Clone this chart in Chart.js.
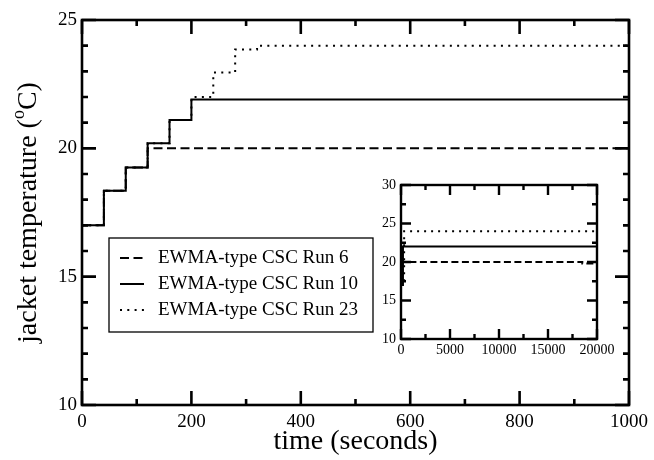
<!DOCTYPE html>
<html>
<head>
<meta charset="utf-8">
<script src="https://cdn.jsdelivr.net/npm/chart.js@4/dist/chart.umd.min.js"></script>
<style>
  body { margin: 0; background: #fff; }
  #wrap { position: relative; width: 654px; height: 460px; }
  #main { position: absolute; left: 0; top: 0; }
  #inset { position: absolute; left: 350px; top: 170px; }
</style>
</head>
<body>
<div id="wrap">
  <canvas id="main" width="654" height="460"></canvas>
  <canvas id="inset" width="270" height="195"></canvas>
</div>
<script>
// Main plot: step start times (s) and jacket temperature (C)
const run6Time = [0, 40, 80, 120, 1000];
const run6Temp = [17.0, 18.35, 19.25, 20.0, 20.0];
const run10Time = [0, 40, 80, 120, 160, 200, 1000];
const run10Temp = [17.0, 18.35, 19.25, 20.2, 21.1, 21.9, 21.9];
const run23Time = [0, 40, 80, 120, 160, 200, 240, 280, 320, 1000];
const run23Temp = [17.0, 18.35, 19.25, 20.2, 21.1, 22.0, 22.95, 23.85, 24.0, 24.0];

// Inset: long run out to 20000 s
const inset6Time = [0, 120, 18500, 20000];
const inset6Temp = [17.0, 20.0, 19.8, 19.8];
const inset10Time = [0, 200, 20000];
const inset10Temp = [17.0, 22.0, 22.0];
const inset23Time = [0, 320, 20000];
const inset23Temp = [17.0, 24.0, 24.0];

const legendLabels = ["EWMA-type CSC Run 6", "EWMA-type CSC Run 10", "EWMA-type CSC Run 23"];

const FONT = "'Liberation Serif', 'Times New Roman', serif";

function toPoints(xs, ys) {
  return xs.map((x, i) => ({ x: x, y: ys[i] }));
}

function plainTick(value) {
  return String(value);
}

function makeDatasets(times, temps, width, dashes) {
  return times.map((t, i) => ({
    label: legendLabels[i],
    data: toPoints(t, temps[i]),
    borderColor: "#000",
    borderWidth: width,
    borderDash: dashes[i],
    stepped: "before",
    pointRadius: 0,
    fill: false,
  }));
}

// frame + inward ticks on all four sides
const framePlugin = {
  id: "frame",
  afterDatasetsDraw(chart, args, opts) {
    const ctx = chart.ctx;
    const a = chart.chartArea;
    const sx = chart.scales.x, sy = chart.scales.y;
    ctx.save();
    ctx.strokeStyle = "#000";
    ctx.lineWidth = opts.width;
    ctx.lineCap = "butt";
    ctx.beginPath();
    for (let v = sx.min; v <= sx.max + 1e-9; v += opts.xMinor) {
      const px = sx.getPixelForValue(v);
      const isMajor = Math.abs(v / opts.xMajor - Math.round(v / opts.xMajor)) < 1e-6;
      const len = isMajor ? opts.major : opts.minor;
      ctx.moveTo(px, a.bottom); ctx.lineTo(px, a.bottom - len);
      ctx.moveTo(px, a.top); ctx.lineTo(px, a.top + len);
    }
    for (let v = sy.min; v <= sy.max + 1e-9; v += opts.yMinor) {
      const py = sy.getPixelForValue(v);
      const isMajor = Math.abs(v / opts.yMajor - Math.round(v / opts.yMajor)) < 1e-6;
      const len = isMajor ? opts.major : opts.minor;
      ctx.moveTo(a.left, py); ctx.lineTo(a.left + len, py);
      ctx.moveTo(a.right, py); ctx.lineTo(a.right - len, py);
    }
    ctx.stroke();
    ctx.strokeRect(a.left, a.top, a.right - a.left, a.bottom - a.top);
    ctx.restore();
  },
};

// legend box inside the main plot
const boxLegend = {
  id: "boxLegend",
  afterDraw(chart, args, opts) {
    const ctx = chart.ctx;
    ctx.save();
    ctx.strokeStyle = "#000";
    ctx.lineWidth = 1.3;
    ctx.strokeRect(opts.left, opts.top, opts.right - opts.left, opts.bottom - opts.top);
    ctx.font = "19px " + FONT;
    ctx.fillStyle = "#000";
    ctx.textBaseline = "middle";
    chart.data.datasets.forEach((ds, i) => {
      const y = opts.firstRow + i * opts.rowGap;
      ctx.lineWidth = 2;
      ctx.setLineDash(ds.borderDash || []);
      ctx.beginPath();
      ctx.moveTo(opts.left + 11, y);
      ctx.lineTo(opts.left + 35, y);
      ctx.stroke();
      ctx.setLineDash([]);
      ctx.fillText(ds.label, opts.left + 49, y);
    });
    ctx.restore();
  },
};

// rotated y title with superscript "o"
const yTitle = {
  id: "yTitle",
  afterDraw(chart) {
    const ctx = chart.ctx;
    const a = chart.chartArea;
    const big = "28px " + FONT, small = "18px " + FONT;
    ctx.save();
    ctx.fillStyle = "#000";
    ctx.textBaseline = "alphabetic";
    ctx.font = big;
    const p1 = "jacket temperature (", p3 = "C)";
    const w1 = ctx.measureText(p1).width, w3 = ctx.measureText(p3).width;
    ctx.font = small;
    const w2 = ctx.measureText("o").width;
    const total = w1 + w2 + w3;
    ctx.translate(36, (a.top + a.bottom) / 2);
    ctx.rotate(-Math.PI / 2);
    let x = -total / 2;
    ctx.font = big;
    ctx.fillText(p1, x, 0);
    x += w1;
    ctx.font = small;
    ctx.fillText("o", x, -12);
    x += w2;
    ctx.font = big;
    ctx.fillText(p3, x, 0);
    ctx.restore();
  },
};

new Chart(document.getElementById("main"), {
  type: "line",
  data: {
    datasets: makeDatasets(
      [run6Time, run10Time, run23Time],
      [run6Temp, run10Temp, run23Temp],
      2,
      [[9, 4.5], [], [2, 5.3]]
    ),
  },
  options: {
    responsive: false,
    animation: false,
    layout: { padding: { left: 0, top: 20, right: 24, bottom: 0 } },
    scales: {
      x: {
        type: "linear",
        min: 0,
        max: 1000,
        grid: { display: false, drawTicks: false },
        border: { display: false },
        ticks: { stepSize: 200, color: "#000", font: { family: FONT, size: 19 }, padding: 6, maxRotation: 0, callback: plainTick },
        title: { display: true, text: "time (seconds)", color: "#000", font: { family: FONT, size: 28 }, padding: { top: 0, bottom: 2 } },
        afterFit(s) { s.height = 55; },
      },
      y: {
        type: "linear",
        min: 10,
        max: 25,
        grid: { display: false, drawTicks: false },
        border: { display: false },
        ticks: { stepSize: 5, color: "#000", font: { family: FONT, size: 19 }, padding: 5, callback: plainTick },
        afterFit(s) { s.width = 82; },
      },
    },
    plugins: {
      legend: { display: false },
      tooltip: { enabled: false },
      frame: { width: 2.6, xMajor: 200, xMinor: 100, yMajor: 5, yMinor: 1, major: 14, minor: 6 },
      boxLegend: { left: 109, top: 238, right: 373, bottom: 332, firstRow: 258, rowGap: 26 },
    },
  },
  plugins: [framePlugin, boxLegend, yTitle],
});

new Chart(document.getElementById("inset"), {
  type: "line",
  data: {
    datasets: makeDatasets(
      [inset6Time, inset10Time, inset23Time],
      [inset6Temp, inset10Temp, inset23Temp],
      2,
      [[7, 3.5], [], [2, 5]]
    ),
  },
  options: {
    responsive: false,
    animation: false,
    layout: { padding: { left: 0, top: 15, right: 23, bottom: 0 } },
    scales: {
      x: {
        type: "linear",
        min: 0,
        max: 20000,
        grid: { display: false, drawTicks: false },
        border: { display: false },
        ticks: { stepSize: 5000, color: "#000", font: { family: FONT, size: 14 }, padding: 3, maxRotation: 0, callback: plainTick },
        afterFit(s) { s.height = 26; },
      },
      y: {
        type: "linear",
        min: 10,
        max: 30,
        grid: { display: false, drawTicks: false },
        border: { display: false },
        ticks: { stepSize: 5, color: "#000", font: { family: FONT, size: 14 }, padding: 5, callback: plainTick },
        afterFit(s) { s.width = 51; },
      },
    },
    plugins: {
      legend: { display: false },
      tooltip: { enabled: false },
      frame: { width: 2.4, xMajor: 5000, xMinor: 2500, yMajor: 5, yMinor: 2.5, major: 10, minor: 5 },
    },
  },
  plugins: [framePlugin],
});
</script>
</body>
</html>
